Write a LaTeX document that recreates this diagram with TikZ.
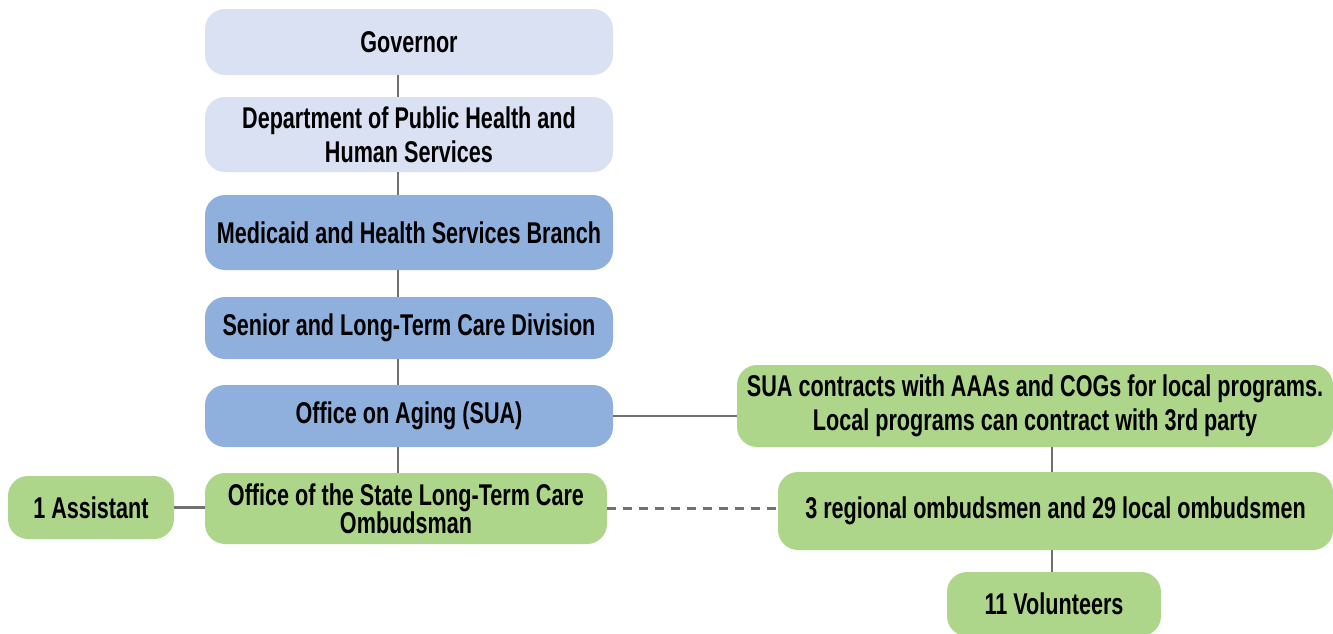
\documentclass[tikz,border=0pt]{standalone}
\usepackage{fontspec}
\setmainfont[FakeStretch=0.72]{Liberation Sans}
\definecolor{lblue}{HTML}{D9E1F3}
\definecolor{mblue}{HTML}{8FB0DD}
\definecolor{lgreen}{HTML}{AED68B}
\definecolor{lgray}{HTML}{707070}
\begin{document}
\begin{tikzpicture}[x=1pt,y=-1pt,
  box/.style={rounded corners=20pt, inner sep=0pt, align=center, text=black,
    font=\bfseries\fontsize{30}{34}\selectfont},
  lb/.style={box, fill=lblue},
  mb/.style={box, fill=mblue},
  gb/.style={box, fill=lgreen},
  conn/.style={draw=lgray, line width=2.2pt},
  dconn/.style={conn, dash pattern=on 9pt off 7pt}]
\useasboundingbox (0,0) rectangle (1333,633);
\node[lb, minimum width=408pt, minimum height=66pt] (gov) at (409,42) {Governor};
\node[lb, minimum width=408pt, minimum height=75pt] (dph) at (409,134.5) {Department of Public Health and\\Human Services};
\node[mb, minimum width=408pt, minimum height=75pt] (med) at (409,232.5) {Medicaid and Health Services Branch};
\node[mb, minimum width=408pt, minimum height=62pt] (sen) at (409,328) {Senior and Long-Term Care Division};
\node[mb, minimum width=408pt, minimum height=62pt] (ooa) at (409,416) {Office on Aging (SUA)};
\node[gb, minimum width=402pt, minimum height=71pt] (ltc) at (406,508.5) {Office of the State Long-Term Care\\[-6pt]Ombudsman};
\node[gb, minimum width=166pt, minimum height=63pt] (asst) at (91,507.5) {1 Assistant};
\node[gb, minimum width=596pt, minimum height=82pt] (sua) at (1035,406) {SUA contracts with AAAs and COGs for local programs.\\Local programs can contract with 3rd party};
\node[gb, minimum width=555pt, minimum height=78pt] (reg) at (1055.5,511) {3 regional ombudsmen and 29 local ombudsmen};
\node[gb, minimum width=214pt, minimum height=64pt] (vol) at (1054,604) {11 Volunteers};
\coordinate (vx) at (398,0);
\coordinate (rx) at (1052,0);
\draw[conn] (gov.south -| vx) -- (dph.north -| vx);
\draw[conn] (dph.south -| vx) -- (med.north -| vx);
\draw[conn] (med.south -| vx) -- (sen.north -| vx);
\draw[conn] (sen.south -| vx) -- (ooa.north -| vx);
\draw[conn] (ooa.south -| vx) -- (ltc.north -| vx);
\draw[conn] (asst.east) -- (asst.east -| ltc.west);
\draw[conn] (ooa.east) -- (ooa.east -| sua.west);
\draw[conn] (sua.south -| rx) -- (reg.north -| rx);
\draw[conn] (reg.south -| rx) -- (vol.north -| rx);
\draw[dconn] (ltc.east) -- (ltc.east -| reg.west);
\end{tikzpicture}
\end{document}
